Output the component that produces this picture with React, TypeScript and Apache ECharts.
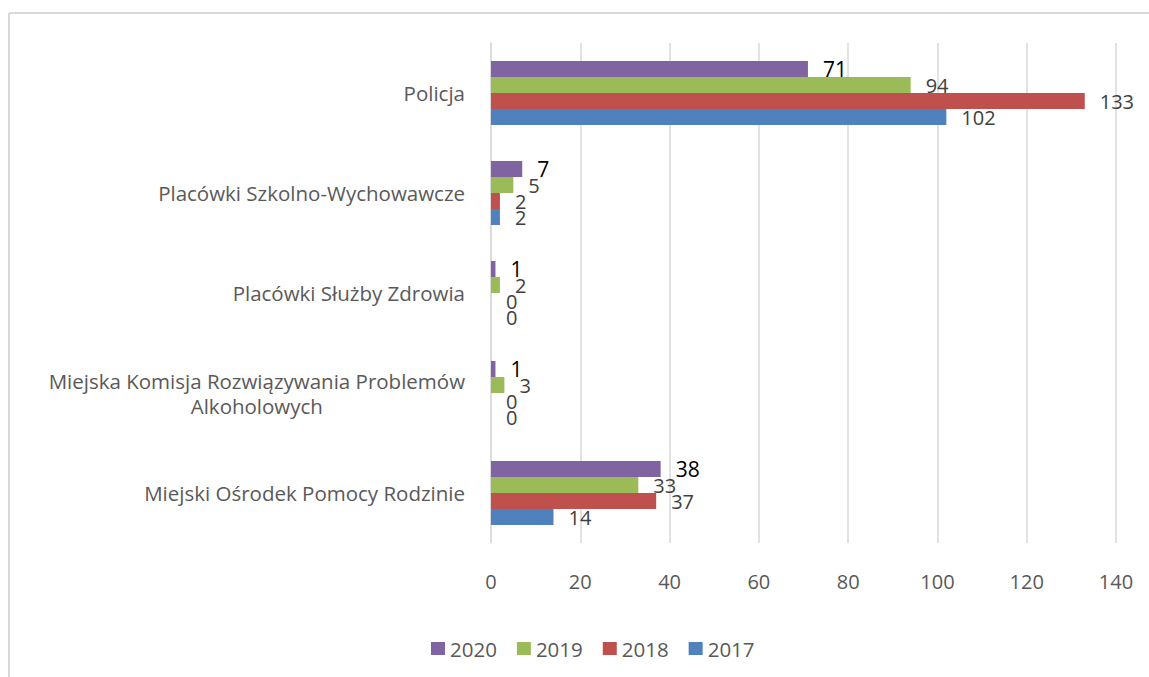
import React, { useEffect, useRef } from "react";
import * as echarts from "echarts";

const categories = [
  "Policja",
  "Placówki Szkolno-Wychowawcze",
  "Placówki Służby Zdrowia",
  "Miejska Komisja Rozwiązywania Problemów\nAlkoholowych",
  "Miejski Ośrodek Pomocy Rodzinie",
];
const years = ["2020", "2019", "2018", "2017"];
const values2020 = [71, 7, 1, 1, 38];
const values2019 = [94, 5, 2, 3, 33];
const values2018 = [133, 2, 0, 0, 37];
const values2017 = [102, 2, 0, 0, 14];
const xTicks = { min: 0, max: 140, interval: 20 };

const colors = ["#8064A2", "#9BBB59", "#C0504D", "#4F81BD"];
const FONT = "'Open Sans', sans-serif";

export default function App() {
  const ref = useRef<HTMLDivElement>(null);
  useEffect(() => {
    document.body.style.margin = "0";
    const chart = echarts.init(ref.current!, null, { renderer: "svg" });
    const seriesData = [values2020, values2019, values2018, values2017];
    chart.setOption({
      animation: false,
      textStyle: { fontFamily: FONT },
      grid: { left: 491, top: 43, width: 625, height: 500, containLabel: false },
      graphic: [
        { type: "line", shape: { x1: 9, y1: 13, x2: 1149, y2: 13 }, style: { stroke: "#d9d9d9", lineWidth: 2 } },
        { type: "line", shape: { x1: 9, y1: 13, x2: 9, y2: 677 }, style: { stroke: "#d9d9d9", lineWidth: 2 } },
      ],
      legend: {
        data: years,
        top: 633,
        left: 426,
        icon: "rect",
        itemWidth: 14,
        itemHeight: 13,
        itemGap: 20,
        textStyle: { fontSize: 20.5, color: "#595959", fontFamily: FONT },
      },
      xAxis: {
        type: "value",
        min: xTicks.min,
        max: xTicks.max,
        interval: xTicks.interval,
        axisLine: { show: false },
        axisTick: { show: false },
        splitLine: { lineStyle: { color: "#d9d9d9", width: 1.5 } },
        axisLabel: { fontSize: 20, color: "#595959", margin: 28, fontFamily: FONT },
      },
      yAxis: {
        type: "category",
        inverse: true,
        data: categories,
        axisLine: { show: true, lineStyle: { color: "#d9d9d9", width: 1.5 } },
        axisTick: { show: false },
        axisLabel: {
          margin: 26,
          fontSize: 20.5,
          color: "#595959",
          fontFamily: FONT,
          formatter: (v: string) =>
            v
              .split("\n")
              .map((l) => `{l|${l}}`)
              .join("\n"),
          rich: {
            l: { align: "center", fontSize: 20.5, color: "#595959", lineHeight: 25, fontFamily: FONT },
          },
        },
      },
      series: years.map((y, i) => ({
        name: y,
        type: "bar",
        data: seriesData[i],
        barGap: "0%",
        barCategoryGap: "36%",
        itemStyle: { color: colors[i] },
        label: {
          show: true,
          position: "right",
          distance: 15,
          fontSize: i === 0 ? 21 : 20,
          color: i === 0 ? "#000000" : "#404040",
          fontFamily: FONT,
        },
      })),
    });
    return () => chart.dispose();
  }, []);
  return <div ref={ref} style={{ width: 1149, height: 677 }} />;
}
